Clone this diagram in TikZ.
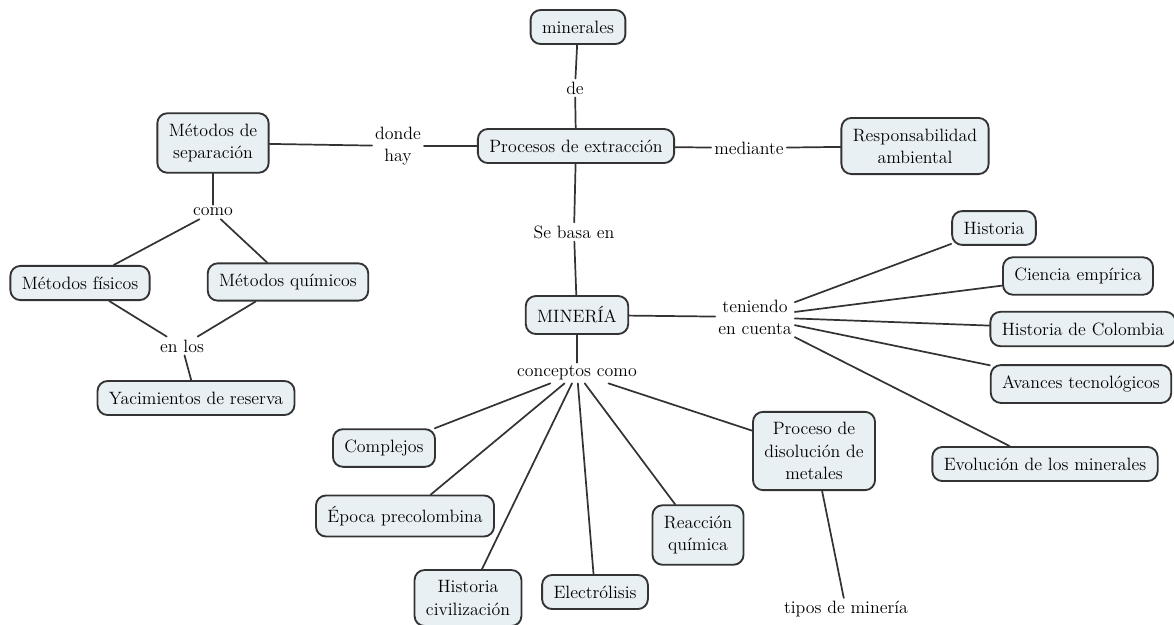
\documentclass[tikz,border=0pt]{standalone}
\definecolor{cmapfill}{HTML}{E8F0F4}
\definecolor{cmapline}{HTML}{333333}
\begin{document}
\begin{tikzpicture}[x=0.7pt,y=-0.7pt,line join=round,line cap=round,
	font=\fontsize{12.5}{15.5}\selectfont,
	concepto/.style={draw=cmapline,line width=1.3pt,fill=cmapfill,rounded corners=7pt,
		inner xsep=8pt,inner ysep=7.5pt,align=center},
	enlace/.style={inner sep=2pt,align=center},
	conector/.style={cmapline,line width=1.2pt}]
	\useasboundingbox (0,0) rectangle (1174,624);
	% conceptos
	\node[concepto] (min) at (578,27) {minerales};
	\node[concepto] (proc) at (576,146) {Procesos de extracción};
	\node[concepto] (sep) at (213,143) {Métodos de\\separación};
	\node[concepto] (resp) at (915,146) {Responsabilidad\\ambiental};
	\node[concepto] (mineria) at (577,315) {MINERÍA};
	\node[concepto] (fis) at (80,283) {Métodos físicos};
	\node[concepto] (quim) at (288,282) {Métodos químicos};
	\node[concepto] (yac) at (196,398) {Yacimientos de reserva};
	\node[concepto] (hist) at (994,228) {Historia};
	\node[concepto] (cien) at (1078,276) {Ciencia empírica};
	\node[concepto] (col) at (1083,329) {Historia de Colombia};
	\node[concepto] (avan) at (1081,384) {Avances tecnológicos};
	\node[concepto] (evol) at (1045,464) {Evolución de los minerales};
	\node[concepto] (disol) at (814,451) {Proceso de\\disolución de\\metales};
	\node[concepto] (comp) at (384,448) {Complejos};
	\node[concepto] (epoca) at (405,516) {Época precolombina};
	\node[concepto] (civ) at (468,598) {Historia\\civilización};
	\node[concepto] (elec) at (595,592) {Electrólisis};
	\node[concepto] (reac) at (698,535) {Reacción\\química};
	% enlaces
	\node[enlace] (de) at (575,88) {de};
	\node[enlace] (donde) at (398,146) {donde\\hay};
	\node[enlace] (med) at (749,148) {mediante};
	\node[enlace] (basa) at (574,232) {Se basa en};
	\node[enlace] (como) at (213,212) {como};
	\node[enlace] (enlos) at (182,346) {en los};
	\node[enlace] (ten) at (755,317) {teniendo\\en cuenta};
	\node[enlace] (conc) at (577,373) {conceptos como};
	\node[enlace] (tipos) at (846,609) {tipos de minería};
	% conectores
	\draw[conector] (min) -- (de) -- (proc);
	\draw[conector] (sep) -- (donde) -- (proc);
	\draw[conector] (proc) -- (med) -- (resp);
	\draw[conector] (proc) -- (basa) -- (mineria);
	\draw[conector] (sep) -- (como);
	\draw[conector] (como) -- (fis);
	\draw[conector] (como) -- (quim);
	\draw[conector] (fis) -- (enlos);
	\draw[conector] (quim) -- (enlos);
	\draw[conector] (enlos) -- (yac);
	\draw[conector] (mineria) -- (ten);
	\foreach \n in {hist,cien,col,avan,evol}
		\draw[conector] (ten) -- (\n);
	\draw[conector] (mineria) -- (conc);
	\foreach \n in {comp,epoca,civ,elec,reac,disol}
		\draw[conector] (conc) -- (\n);
	\draw[conector] (disol) -- (tipos);
\end{tikzpicture}
\end{document}
